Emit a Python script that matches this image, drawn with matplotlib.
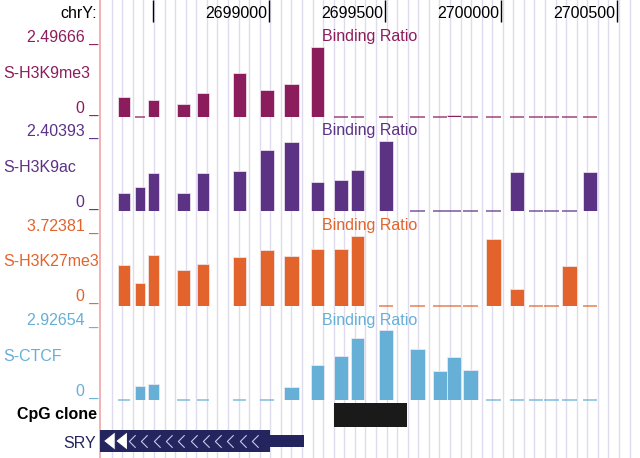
import numpy as np
import matplotlib
matplotlib.use("Agg")
import matplotlib.pyplot as plt
from matplotlib.path import Path
from matplotlib.patches import Rectangle, Polygon

plt.rcParams['font.family'] = ['Liberation Sans', 'DejaVu Sans']

# probe windows on chrY (bp)
probe_start = [2698347, 2698420, 2698476, 2698601, 2698688, 2698843, 2698960, 2699063,
               2699180, 2699279, 2699353, 2699474, 2699607, 2699707, 2699767, 2699836,
               2699936, 2700039, 2700121, 2700186, 2700264, 2700355]
probe_end = [2698398, 2698463, 2698524, 2698658, 2698740, 2698899, 2699020, 2699128,
             2699236, 2699340, 2699409, 2699534, 2699672, 2699767, 2699828, 2699901,
             2700000, 2700100, 2700182, 2700251, 2700329, 2700415]

# binding ratios per track
h3k9me3 = [0.72, 0, 0.61, 0.45, 0.85, 1.58, 0.96, 1.17, 2.49666, 0, 0,
           0, 0, 0, 0.06, 0, 0, 0, 0, 0, 0, 0]
h3k9ac = [0.61, 0.84, 1.30, 0.61, 1.30, 1.36, 2.11, 2.38, 0.99, 1.05, 1.41,
          2.40393, 0, 0, 0, 0, 0, 1.34, 0, 0, 0, 1.34]
h3k27me3 = [2.15, 1.19, 2.70, 1.90, 2.20, 2.57, 2.93, 2.61, 2.98, 3.03, 3.72381,
            0, 0, 0, 0, 0, 3.55, 0.89, 0, 0, 2.11, 0]
ctcf = [0, 0.585, 0.66, 0, 0, 0, 0, 0.54, 1.46, 1.83, 2.59,
        2.92654, 2.14, 1.21, 1.79, 1.24, 0, 0, 0, 0, 0, 0]

track_names = ["S-H3K9me3", "S-H3K9ac", "S-H3K27me3", "S-CTCF"]
track_max = [2.49666, 2.40393, 3.72381, 2.92654]
track_data = [h3k9me3, h3k9ac, h3k27me3, ctcf]
track_colors = ['#8C1D5C', '#5C3285', '#E2632B', '#66AFD7']

ruler_ticks = [2698500, 2699000, 2699500, 2700000, 2700500]
ruler_labels = ["", "2699000", "2699500", "2700000", "2700500"]

cpg_clone = (2699279, 2699596)
sry_thick = (2698200, 2699003)
sry_end = 2699151

W, H = 640, 458
x_lo, x_hi = 2698269, 2700601   # view window
px_per_bp = 540 / (x_hi - x_lo)
FS = 11.5

fig = plt.figure(figsize=(6.4, 4.58), dpi=100)


def fx(px):
    return px / W


def fy(py):
    return 1 - py / H


# background axes: x in bp, y in pixel rows
bg = fig.add_axes([fx(100), 0, 540 / W, 1])
bg.set_xlim(x_lo, x_hi)
bg.set_ylim(H, 0)
bg.axis('off')

# guidelines
for g in np.arange(x_lo + 11.7 / px_per_bp, x_hi, 10.57 / px_per_bp):
    bg.axvline(g, color='#DEDCEE', lw=1.0, zorder=0)
bg.axvline(x_lo, color='#F4A3A3', lw=1.2, zorder=1, clip_on=False)

# ruler
fig.text(fx(97), fy(18.5), "chrY:", ha='right', va='baseline', fontsize=FS)
for t, lab in zip(ruler_ticks, ruler_labels):
    bg.vlines(t, 0, 22, color='black', lw=1)
    if lab:
        bg.text(t - 8, 18.5, lab, ha='right', va='baseline', fontsize=FS)

# data tracks
track_zero = [117, 211, 305.5, 400]
track_h = 70
for name, mx, vals, col, z in zip(track_names, track_max, track_data, track_colors, track_zero):
    top = z - track_h
    ax = fig.add_axes([fx(100), fy(z), 540 / W, track_h / H])
    ax.set_xlim(x_lo, x_hi)
    ax.set_ylim(0, mx)
    ax.patch.set_alpha(0)
    ax.axis('off')
    for s, e, v in zip(probe_start, probe_end, vals):
        if v > 0:
            ax.bar(s, v, width=e - s, align='edge', color=col,
                   edgecolor='#F2ECF4', linewidth=0.5)
        else:
            ax.hlines(0, s, e, color=col, lw=1.2, alpha=0.75, clip_on=False)
    fig.text(fx(98), fy(top - 5), f"{mx:.5f} _", ha='right', va='baseline',
             fontsize=FS, color=col)
    fig.text(fx(3), fy(top + 31), name, ha='left', va='baseline',
             fontsize=FS, color=col)
    fig.text(fx(98), fy(z - 4.5), "0 _", ha='right', va='baseline',
             fontsize=FS, color=col)
    fig.text(fx(370), fy(top - 5.5), "Binding Ratio", ha='center', va='baseline',
             fontsize=FS, color=col)

# CpG clone
fig.text(fx(97), fy(418.5), "CpG clone", ha='right', va='baseline',
         fontsize=FS, fontweight='bold', color='black')
bg.add_patch(Rectangle((cpg_clone[0], 403.3), cpg_clone[1] - cpg_clone[0], 24,
                       facecolor='#1A1A1A', edgecolor='none'))

# SRY gene (minus strand)
gene_col = '#24245E'
fig.text(fx(96), fy(447.5), "SRY", ha='right', va='baseline', fontsize=FS, color=gene_col)
bg.add_patch(Rectangle((sry_thick[0], 429.7), sry_thick[1] - sry_thick[0], 22.6,
                       facecolor=gene_col, edgecolor='none'))
bg.add_patch(Rectangle((sry_thick[1], 434.7), sry_end - sry_thick[1], 12.6,
                       facecolor=gene_col, edgecolor='none'))
chev = Path([(0.5, -1), (-0.5, 0), (0.5, 1)], [Path.MOVETO, Path.LINETO, Path.LINETO])
chev_x = np.arange(x_lo + 32 / px_per_bp, x_lo + 162 / px_per_bp, 12.3 / px_per_bp)
bg.plot(chev_x, np.full(len(chev_x), 441), linestyle='none', marker=chev,
        markersize=9, markerfacecolor='none', markeredgecolor='#C8C8EC', markeredgewidth=0.8)
for tip in (3.3, 15.5):
    tx = x_lo + tip / px_per_bp
    bx = x_lo + (tip + 12) / px_per_bp
    bg.add_patch(Polygon([(tx, 441), (bx, 431.5), (bx, 450.5)], closed=True,
                         facecolor='white', edgecolor=gene_col, lw=0.8))

fig.savefig("out.png", dpi=100)
